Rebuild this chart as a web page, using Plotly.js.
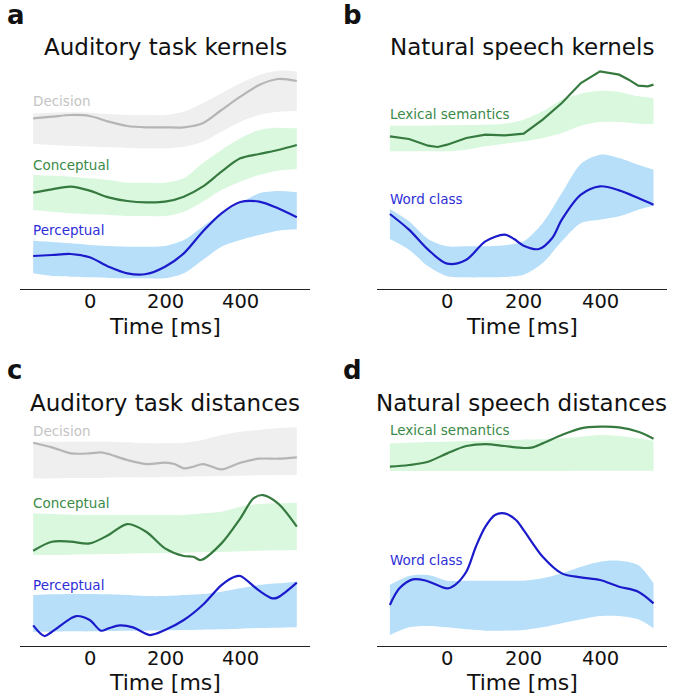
<!DOCTYPE html>
<html><head><meta charset="utf-8">
<script src="https://cdn.plot.ly/plotly-3.0.1.min.js"></script>
<style>html,body{margin:0;padding:0;background:#fff}#c{width:675px;height:700px}</style>
</head><body><div id="c"></div>
<script>
// ---------- time grids (ms) ----------
const tA = [-150,-100,-50,0,50,100,150,200,250,300,350,400,450,500,550];
const tB = [-150,-100,-50,0,50,100,150,200,250,300,350,400,450,500,540];

// ---------- panel a: Auditory task kernels ----------
const aDecisionLine = [512,517,522,519,502,489,485,485,485,497,537,577,612,630,624];
const aDecisionTop  = [527,529,530,529,525,522,522,522,532,557,587,617,642,655,652];
const aDecisionBot  = [435,432,429,427,425,423,422,422,427,442,472,502,522,532,534];
const aConceptLine  = [289,299,307,295,275,264,260,262,277,307,352,392,405,417,432];
const aConceptTop   = [342,340,337,332,327,319,319,319,332,377,417,452,477,484,482];
const aConceptBot   = [237,232,227,224,222,219,219,219,232,262,297,322,342,355,360];
const aPerceptLine  = [99,102,105,95,67,47,45,67,107,172,227,261,262,242,215];
const aPerceptTop   = [145,141,137,132,129,127,127,129,147,187,227,257,287,294,290];
const aPerceptBot   = [47,39,37,35,33,32,32,32,47,87,127,147,162,175,179];

// ---------- panel b: Natural speech kernels ----------
const bLexT    = [-150,-100,-50,-25,0,50,100,150,200,250,300,350,400,450,475,500,525,540];
const bLexLine = [458,450,430,426,433,453,463,461,466,508,558,618,653,643,628,610,608,613];
const bLexTop  = [490,490,490,491,492,493,496,508,533,568,586,595,591,578,573];
const bLexBot  = [413,413,413,413,418,428,436,443,453,468,490,501,501,496,495];
const bWordT    = [-150,-100,-50,0,50,100,150,175,200,240,275,300,350,400,450,500,540];
const bWordLine = [225,178,118,76,88,143,163,150,130,120,153,208,283,308,296,273,253];
const bWordTop  = [240,203,150,128,128,128,131,143,198,288,376,403,393,373,358];
const bWordBot  = [150,118,68,38,35,35,36,43,78,143,198,208,218,238,250];

// ---------- panel c: Auditory task distances ----------
const cDecisionT    = [-150,-100,-50,0,30,50,100,150,200,225,250,275,300,320,350,400,450,500,550];
const cDecisionLine = [609,595,577,577,580,575,557,545,549,545,532,537,545,539,529,549,561,561,565];
const cDecisionTop  = [612,612,612,612,612,610,607,607,609,617,632,642,647,652,655];
const cDecisionBot  = [502,502,503,503,504,505,505,506,507,508,509,510,511,512,512];
const cConceptT     = [-150,-100,-50,0,50,100,150,200,250,275,295,350,400,435,460,500,550];
const cConceptLine  = [285,312,312,307,332,365,342,292,269,267,257,307,382,442,452,427,357];
const cConceptTop   = [397,395,393,392,392,392,392,392,392,397,402,417,425,427,429];
const cConceptBot   = [272,272,273,274,275,276,277,278,279,280,281,283,285,286,287];
const cPerceptT     = [-150,-120,-100,-50,-35,0,30,50,80,115,160,200,250,300,350,385,400,450,485,500,550];
const cPerceptLine  = [61,29,42,82,89,77,45,52,61,55,32,47,77,122,182,207,209,165,142,145,189];
const cPerceptTop   = [152,154,155,155,154,152,149,149,152,155,162,172,182,187,192];
const cPerceptBot   = [42,42,43,43,44,45,45,46,47,48,49,51,53,54,55];

// ---------- panel d: Natural speech distances ----------
const dLexT    = [-150,-100,-50,0,50,100,150,190,220,250,300,350,400,450,500,540];
const dLexLine = [537,542,552,577,599,605,599,594,594,607,632,652,657,655,642,621];
const dLexTop  = [607,609,611,612,614,615,617,618,619,622,627,632,629,622,615];
const dLexBot  = [524,524,524,524,524,524,524,524,524,524,525,525,525,525,525];
const dWordT    = [-150,-125,-90,-55,0,20,50,75,100,125,150,180,200,250,300,350,400,450,500,540];
const dWordLine = [122,172,199,195,172,182,222,297,357,392,397,377,347,267,217,205,197,177,162,127];
const dWordTop  = [182,209,212,195,195,195,195,195,202,217,237,252,255,242,187];
const dWordBot  = [32,55,59,55,49,45,45,47,55,67,79,89,89,79,52];

const xTicks = [0,200,400];
const xTitle = 'Time [ms]';
const panelTitles = ['Auditory task kernels','Natural speech kernels','Auditory task distances','Natural speech distances'];
const panelLetters = ['a','b','c','d'];

// ---------- colours ----------
const C = {
  gray:  {line:'#b5b5b5', band:'#efefef', label:'#c4c4c4'},
  green: {line:'#367a40', band:'#d9f8de', label:'#3a8a48'},
  blue:  {line:'#1b1bcc', band:'#b7dff9', label:'#2e2ed8'}
};

const W = 675, H = 700;
// panel pixel boxes [left, right, top, bottom]
const boxes = {
  a:[20,310,62,289],
  b:[376.7,666.7,62,289],
  c:[20,310,419,645.7],
  d:[376.7,666.7,419,645.7]
};
const xRanges = {a:[-185,585], b:[-184.5,574.5], c:[-185,585], d:[-184.5,574.5]};
const axIds = {a:['x','y'], b:['x2','y2'], c:['x3','y3'], d:['x4','y4']};

const traces = [];
function band(p, t, bot, top, col){
  const [xa,ya] = axIds[p];
  traces.push({x:t, y:bot, xaxis:xa, yaxis:ya, mode:'lines', line:{width:0, shape:'spline', smoothing:0.8, color:col}, hoverinfo:'skip', showlegend:false});
  traces.push({x:t, y:top, xaxis:xa, yaxis:ya, mode:'lines', fill:'tonexty', fillcolor:col, line:{width:0, shape:'spline', smoothing:0.8, color:col}, hoverinfo:'skip', showlegend:false});
}
function line(p, t, y, col, shape){
  const [xa,ya] = axIds[p];
  traces.push({x:t, y:y, xaxis:xa, yaxis:ya, mode:'lines', line:{width:2.2, color:col, shape:shape||'spline', smoothing:0.9}, showlegend:false});
}

// panel a
band('a', tA, aDecisionBot, aDecisionTop, C.gray.band);
band('a', tA, aConceptBot, aConceptTop, C.green.band);
band('a', tA, aPerceptBot, aPerceptTop, C.blue.band);
line('a', tA, aDecisionLine, C.gray.line);
line('a', tA, aConceptLine, C.green.line);
line('a', tA, aPerceptLine, C.blue.line);
// panel b
band('b', tB, bLexBot, bLexTop, C.green.band);
band('b', tB, bWordBot, bWordTop, C.blue.band);
line('b', bLexT, bLexLine, C.green.line, 'linear');
line('b', bWordT, bWordLine, C.blue.line);
// panel c
band('c', tA, cDecisionBot, cDecisionTop, C.gray.band);
band('c', tA, cConceptBot, cConceptTop, C.green.band);
band('c', tA, cPerceptBot, cPerceptTop, C.blue.band);
line('c', cDecisionT, cDecisionLine, C.gray.line);
line('c', cConceptT, cConceptLine, C.green.line);
line('c', cPerceptT, cPerceptLine, C.blue.line);
// panel d
band('d', tB, dLexBot, dLexTop, C.green.band);
band('d', tB, dWordBot, dWordTop, C.blue.band);
line('d', dLexT, dLexLine, C.green.line);
line('d', dWordT, dWordLine, C.blue.line);

const font = 'DejaVu Sans, sans-serif';
const layout = {
  width:W, height:H, margin:{l:0,r:0,t:0,b:0},
  paper_bgcolor:'#fff', plot_bgcolor:'rgba(0,0,0,0)',
  showlegend:false, font:{family:font, color:'#111'},
  annotations:[]
};
['a','b','c','d'].forEach((p,i)=>{
  const [l,r,t,b] = boxes[p];
  const sfx = i===0 ? '' : String(i+1);
  layout['xaxis'+sfx] = {
    domain:[l/W, r/W], range:xRanges[p], anchor:'y'+sfx,
    showgrid:false, zeroline:false, showline:true, linecolor:'#222', linewidth:1.4,
    ticks:'', tickvals:xTicks, showticklabels:false,
    fixedrange:true
  };
  layout['yaxis'+sfx] = {
    domain:[1-b/H, 1-t/H], range:[0, 3*(b-t)], anchor:'x'+sfx,
    visible:false, fixedrange:true
  };
  // tick labels, placed on the data x-axis
  xTicks.forEach(v=>{
    layout.annotations.push({xref:axIds[p][0], yref:'paper', x:v, y:1-(b+12.5)/H,
      xanchor:'center', yanchor:'middle', showarrow:false, text:String(v),
      font:{family:font, size:19.5, color:'#111'}});
  });
  // x-axis title
  layout.annotations.push({xref:'paper', yref:'paper', x:((l+r)/2)/W, y:1-(b+37)/H,
    xanchor:'center', yanchor:'middle', showarrow:false, text:xTitle,
    font:{family:font, size:22, color:'#111'}});
  // panel title
  layout.annotations.push({xref:'paper', yref:'paper', x:((l+r)/2)/W, y:1-(p<'c'?47:403)/H,
    xanchor:'center', yanchor:'middle', showarrow:false, text:panelTitles[i],
    font:{family:font, size:23, color:'#111'}});
  // panel letter
  layout.annotations.push({xref:'paper', yref:'paper', x:(p==='a'||p==='c'?5:341)/W, y:1-(p<'c'?15:370)/H,
    xanchor:'left', yanchor:'middle', showarrow:false, text:'<b>'+panelLetters[i]+'</b>',
    font:{family:font, size:26, color:'#111'}});
});
// series labels
const labels = [
  ['a','Decision',101,C.gray.label],['a','Conceptual',165,C.green.label],['a','Perceptual',230,C.blue.label],
  ['b','Lexical semantics',114,C.green.label],['b','Word class',199,C.blue.label],
  ['c','Decision',431,C.gray.label],['c','Conceptual',503,C.green.label],['c','Perceptual',585,C.blue.label],
  ['d','Lexical semantics',430,C.green.label],['d','Word class',560,C.blue.label]
];
labels.forEach(([p,txt,py,col])=>{
  const lx = (p==='a'||p==='c') ? 31 : 388;
  layout.annotations.push({xref:'paper', yref:'paper', x:lx/W, y:1-py/H, xanchor:'left', yanchor:'middle',
    showarrow:false, text:txt, font:{family:font, size:13.5, color:col}});
});

Plotly.newPlot('c', traces, layout, {staticPlot:true, displayModeBar:false});
</script>
</body></html>
